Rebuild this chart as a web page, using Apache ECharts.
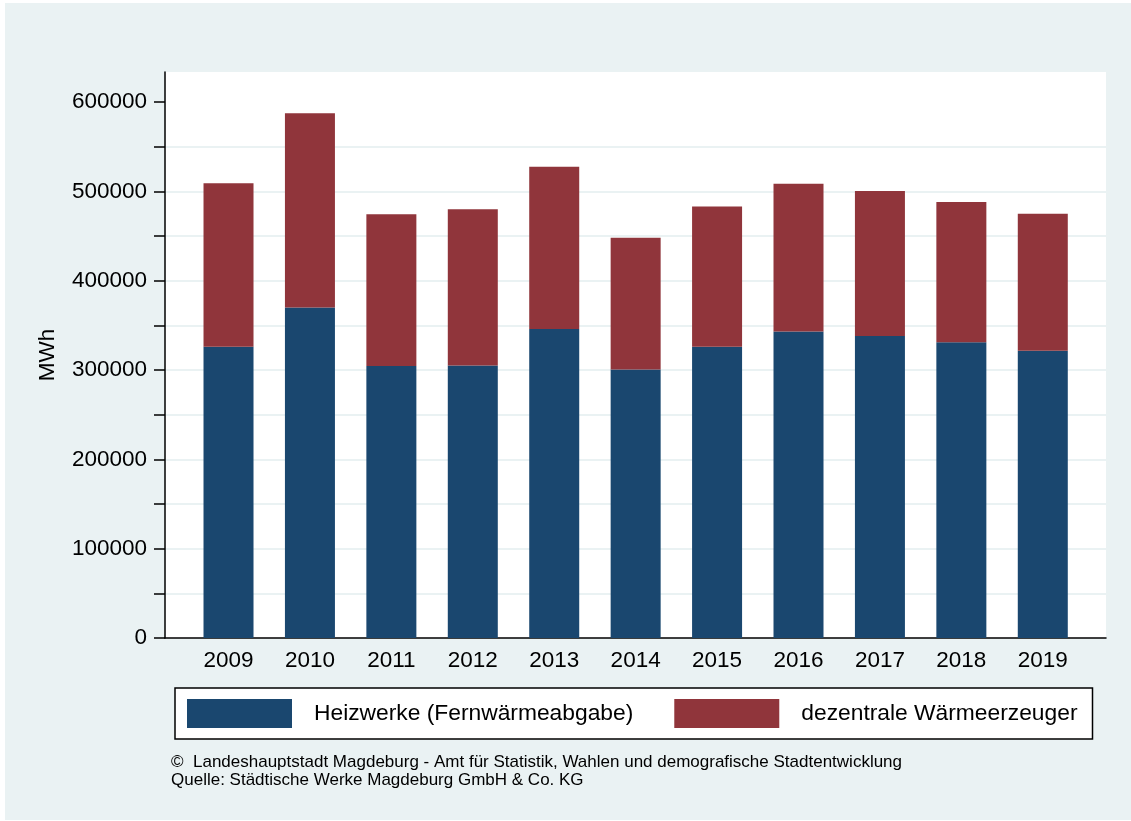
<!DOCTYPE html>
<html>
<head>
<meta charset="utf-8">
<script src="https://cdn.jsdelivr.net/npm/echarts@6/dist/echarts.min.js"></script>
<style>
  html, body { margin: 0; padding: 0; background: #ffffff; }
  #wrap { position: relative; width: 1131px; height: 821px; background: #ffffff; }
  #bg { position: absolute; left: 5px; top: 3px; right: 0; bottom: 1px; background: #EAF2F3; }
  #chart { position: absolute; left: 0; top: 0; width: 1131px; height: 821px; }
</style>
</head>
<body>
<div id="wrap"><div id="bg"></div><div id="chart"></div></div>
<script>
// ---- data ----
const years = ['2009', '2010', '2011', '2012', '2013', '2014', '2015', '2016', '2017', '2018', '2019'];
const heizwerke = [326000, 370000, 304500, 305000, 346000, 300500, 326000, 343000, 338000, 331000, 321500];
const dezentrale = [183000, 217500, 170000, 175000, 181500, 147500, 157000, 165500, 162500, 157000, 153500];
const seriesNames = ['Heizwerke (Fernwärmeabgabe)', 'dezentrale Wärmeerzeuger'];
const yTickLabels = [0, 100000, 200000, 300000, 400000, 500000, 600000];
const yTickMarks = [0, 50000, 100000, 150000, 200000, 250000, 300000, 350000, 400000, 450000, 500000, 550000, 600000];
const yAxisTitle = 'MWh';
const footerLines = [
  '©  Landeshauptstadt Magdeburg - Amt für Statistik, Wahlen und demografische Stadtentwicklung',
  'Quelle: Städtische Werke Magdeburg GmbH & Co. KG'
];
const yMin = 0, yMax = 633600;

// ---- chart ----
const FONT = "'Liberation Sans', Arial, Helvetica, sans-serif";
const chart = echarts.init(document.getElementById('chart'), null, { renderer: 'canvas' });

const option = {
  backgroundColor: 'transparent',
  animation: false,
  textStyle: { fontFamily: FONT, color: '#000' },
  grid: [
    { left: 165, right: 25, top: 72, bottom: 183, show: true, backgroundColor: '#ffffff', borderWidth: 0 },
    { left: 187.8, right: 47.5, top: 72, bottom: 183 }
  ],
  xAxis: [
    { gridIndex: 0, type: 'value', min: 0, max: 1,
      axisLine: { show: true, onZero: false, lineStyle: { color: '#000', width: 1.5 } },
      axisTick: { show: false }, axisLabel: { show: false }, splitLine: { show: false } },
    { gridIndex: 1, type: 'category', data: years,
      axisLine: { show: false }, axisTick: { show: false },
      axisLabel: { fontSize: 22.5, color: '#000', fontFamily: FONT, margin: 11 } }
  ],
  yAxis: [
    { gridIndex: 0, type: 'value', min: yMin, max: yMax, interval: 50000,
      name: yAxisTitle, nameLocation: 'middle', nameGap: 106,
      nameTextStyle: { fontSize: 22.5, color: '#000', fontFamily: FONT },
      axisLine: { show: true, lineStyle: { color: '#000', width: 1.5 } },
      axisTick: { show: true, length: 11, lineStyle: { color: '#000', width: 1.5 }, customValues: yTickMarks },
      axisLabel: { fontSize: 22.5, color: '#000', fontFamily: FONT, margin: 18, customValues: yTickLabels,
                   formatter: function (v) { return String(v); } },
      splitLine: { show: true, showMaxLine: false, showMinLine: false, lineStyle: { color: '#EAF2F3', width: 2 } } },
    { gridIndex: 1, type: 'value', min: yMin, max: yMax, show: false }
  ],
  legend: {
    left: 175, top: 688,
    orient: 'horizontal',
    itemWidth: 105, itemHeight: 29, itemGap: 41,
    padding: [11, 15, 11, 12],
    borderColor: '#000', borderWidth: 1.5, backgroundColor: '#ffffff',
    icon: 'rect',
    textStyle: { fontSize: 22.8, color: '#000', fontFamily: FONT, padding: [0, 0, 0, 17] },
    data: seriesNames
  },
  graphic: [
    { type: 'text', left: 171, top: 753,
      style: { text: footerLines.join('\n'), font: '17px ' + FONT, fill: '#000', lineHeight: 18 } }
  ],
  series: [
    { name: seriesNames[0], type: 'bar', stack: 'total', xAxisIndex: 1, yAxisIndex: 1,
      data: heizwerke, barWidth: 50, itemStyle: { color: '#1A476F' } },
    { name: seriesNames[1], type: 'bar', stack: 'total', xAxisIndex: 1, yAxisIndex: 1,
      data: dezentrale, barWidth: 50, itemStyle: { color: '#90353B' } }
  ]
};
chart.setOption(option);
</script>
</body>
</html>
